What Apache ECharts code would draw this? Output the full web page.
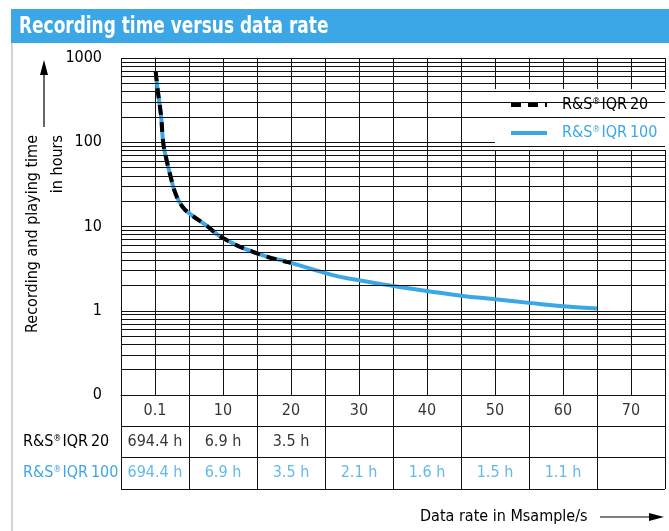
<!DOCTYPE html>
<html><head><meta charset="utf-8">
<script src="https://cdn.jsdelivr.net/npm/echarts@6/dist/echarts.min.js"></script>
<style>html,body{margin:0;padding:0;background:#fff}#c{width:669px;height:531px}</style>
</head><body><div id="c"></div>
<script>
// ---- data ----
const rates       = [0.1, 0.4, 0.9, 1.2, 1.6, 2.3, 3.0, 4.0, 5, 7.4, 10, 15, 20, 26, 30, 35, 40, 45, 50, 55, 60, 65];
const iqr100Hours = [694.4, 417, 201, 100, 67, 39, 24.8, 17.3, 14.4, 10.5, 7.3, 4.8, 3.7, 2.67, 2.3, 1.97, 1.72, 1.51, 1.37, 1.24, 1.13, 1.06];
const iqr20Rates  = [0.1, 0.4, 0.9, 1.2, 1.6, 2.3, 3.0, 4.0, 5, 7.4, 10, 15, 20];
const iqr20Hours  = [694.4, 417, 201, 100, 67, 39, 24.8, 17.3, 14.4, 10.5, 7.3, 4.8, 3.7];
const xTickLabels = ['0.1', '10', '20', '30', '40', '50', '60', '70'];
const iqr20Table  = [694.4, 6.9, 3.5];
const iqr100Table = [694.4, 6.9, 3.5, 2.1, 1.6, 1.5, 1.1];
const rowNames    = ['Data rate', 'R&S®IQR20', 'R&S®IQR100'];
const minorGrid   = [0.2,0.3,0.4,0.5,0.6,0.7,0.8,0.9, 2,3,4,5,6,7,8,9, 20,30,40,50,60,70,80,90, 200,300,400,500,600,700,800,900];

const BLUE = '#3ba7e6', INK = '#000';
const FONT = "'DejaVu Sans Condensed','Liberation Sans Narrow',sans-serif";
const FS = 16;
const supStyle = c => ({ color: c, fontSize: 9, verticalAlign: 'top', padding: [0, 1, 7, 0] });

const chart = echarts.init(document.getElementById('c'), null, { renderer: 'canvas' });
const option = {
  animation: false,
  textStyle: { fontFamily: FONT },
  grid: [
    { left: 121, top: 58, width: 544, height: 337 },
    { left: 121, top: 395, width: 544, height: 94 }
  ],
  xAxis: [
    { gridIndex: 0, type: 'value', min: -5, max: 75, interval: 5,
      axisLabel: { show: false }, axisTick: { show: false },
      axisLine: { lineStyle: { color: '#111', width: 1 } },
      splitLine: { show: true, lineStyle: { color: '#111', width: 1 } } },
    { gridIndex: 1, type: 'category', data: xTickLabels, boundaryGap: true,
      axisLabel: { show: false }, axisTick: { show: false }, axisLine: { show: false },
      splitLine: { show: true, interval: 0, lineStyle: { color: '#111', width: 1 } } }
  ],
  yAxis: [
    { gridIndex: 0, type: 'log', logBase: 10, min: 0.1, max: 1000, splitNumber: 4,
      axisLine: { show: true, lineStyle: { color: '#111', width: 1 } },
      axisTick: { show: true, length: 10, lineStyle: { color: '#111' } },
      axisLabel: { margin: 19, fontSize: FS, color: INK,
        formatter: v => (v < 1 ? '0' : String(Math.round(v))) },
      splitLine: { show: true, lineStyle: { color: '#111', width: 1 } } },
    { gridIndex: 1, type: 'category', data: rowNames, inverse: true, boundaryGap: true,
      axisLine: { show: false }, axisTick: { show: false },
      axisLabel: { margin: 98, align: 'left', fontSize: FS,
        formatter: (v, i) => i === 0 ? '' : (i === 1 ? '{k|R&S}{ks|®}{k|IQR\u200920}' : '{b|R&S}{bs|®}{b|IQR\u2009100}'),
        rich: { k: { color: INK, fontSize: FS }, ks: supStyle(INK),
                b: { color: BLUE, fontSize: FS }, bs: supStyle(BLUE) } },
      splitLine: { show: true, interval: 0, lineStyle: { color: '#111', width: 1 } } }
  ],
  legend: {
    left: 495, top: 89, orient: 'vertical', backgroundColor: '#fff',
    padding: [8, 12, 9, 14], itemWidth: 36, itemHeight: 14, itemGap: 12,
    itemStyle: { color: 'rgba(0,0,0,0)', borderWidth: 0 },
    lineStyle: { width: 4 },
    data: [
      { name: 'R&S®IQR20', textStyle: { color: INK } },
      { name: 'R&S®IQR100', textStyle: { color: BLUE } }
    ],
    formatter: n => n === 'R&S®IQR20' ? '{k|R&S}{ks|®}{k|IQR\u200920}' : '{b|R&S}{bs|®}{b|IQR\u2009100}',
    textStyle: { fontSize: FS, padding: [0, 0, 0, 10],
      rich: { k: { color: INK, fontSize: FS }, ks: supStyle(INK), b: { color: BLUE, fontSize: FS }, bs: supStyle(BLUE) } }
  },
  series: [
    { name: 'grid', type: 'line', xAxisIndex: 0, yAxisIndex: 0, data: [], silent: true,
      markLine: { silent: true, symbol: 'none', label: { show: false },
        lineStyle: { color: '#111', width: 1, type: 'solid' },
        data: minorGrid.map(v => ({ yAxis: v })) } },
    { name: 'R&S®IQR100', type: 'line', xAxisIndex: 0, yAxisIndex: 0, smooth: 0.5,
      symbol: 'none', lineStyle: { color: BLUE, width: 4 }, itemStyle: { color: BLUE }, z: 3,
      data: rates.map((r, i) => [r, iqr100Hours[i]]) },
    { name: 'R&S®IQR20', type: 'line', xAxisIndex: 0, yAxisIndex: 0, smooth: 0.5,
      symbol: 'none', lineStyle: { color: '#000', width: 4, type: [10, 7] }, itemStyle: { color: '#000' }, z: 4,
      data: iqr20Rates.map((r, i) => [r, iqr20Hours[i]]) },
    { name: 'ticks', type: 'scatter', xAxisIndex: 1, yAxisIndex: 1, symbolSize: 1, itemStyle: { color: 'rgba(0,0,0,0)' }, silent: true,
      label: { show: true, position: 'inside', fontSize: FS, color: INK, formatter: p => p.data[0] },
      data: xTickLabels.map(t => [t, rowNames[0]]) },
    { name: 't20', type: 'scatter', xAxisIndex: 1, yAxisIndex: 1, symbolSize: 1, itemStyle: { color: 'rgba(0,0,0,0)' }, silent: true,
      label: { show: true, position: 'inside', fontSize: FS, color: INK, formatter: p => p.data[2] + ' h' },
      data: iqr20Table.map((v, i) => [xTickLabels[i], rowNames[1], v.toFixed(1)]) },
    { name: 't100', type: 'scatter', xAxisIndex: 1, yAxisIndex: 1, symbolSize: 1, itemStyle: { color: 'rgba(0,0,0,0)' }, silent: true,
      label: { show: true, position: 'inside', fontSize: FS, color: BLUE, formatter: p => p.data[2] + ' h' },
      data: iqr100Table.map((v, i) => [xTickLabels[i], rowNames[2], v.toFixed(1)]) }
  ],
  graphic: [
    { type: 'rect', left: 11, top: 9, shape: { width: 658, height: 34 }, style: { fill: BLUE }, silent: true },
    { type: 'text', x: 19, y: 27, scaleX: 0.82, style: { text: 'Recording time versus data rate', fill: '#fff',
        font: "bold 23px " + FONT, verticalAlign: 'middle' } },
    { type: 'line', shape: { x1: 12, y1: 43, x2: 12, y2: 531 }, style: { stroke: '#d4d4d4', lineWidth: 2 } },
    { type: 'text', x: 45, y: 135, rotation: Math.PI / 2,
      style: { text: 'Recording and playing time\nin hours', fill: INK, font: FS + "px " + FONT,
        align: 'right', verticalAlign: 'middle', lineHeight: 25 } },
    { type: 'line', shape: { x1: 44, y1: 127, x2: 44, y2: 72 }, style: { stroke: INK, lineWidth: 1.2 } },
    { type: 'polygon', shape: { points: [[44, 60], [40, 75], [48, 75]] }, style: { fill: INK } },
    { type: 'text', x: 420, y: 517, style: { text: 'Data rate in Msample/s', fill: INK, font: FS + "px " + FONT,
        align: 'left', verticalAlign: 'middle' } },
    { type: 'line', shape: { x1: 600, y1: 517, x2: 652, y2: 517 }, style: { stroke: INK, lineWidth: 1.2 } },
    { type: 'polygon', shape: { points: [[664, 517], [649, 513], [649, 521]] }, style: { fill: INK } }
  ]
};
chart.setOption(option);
</script></body></html>
